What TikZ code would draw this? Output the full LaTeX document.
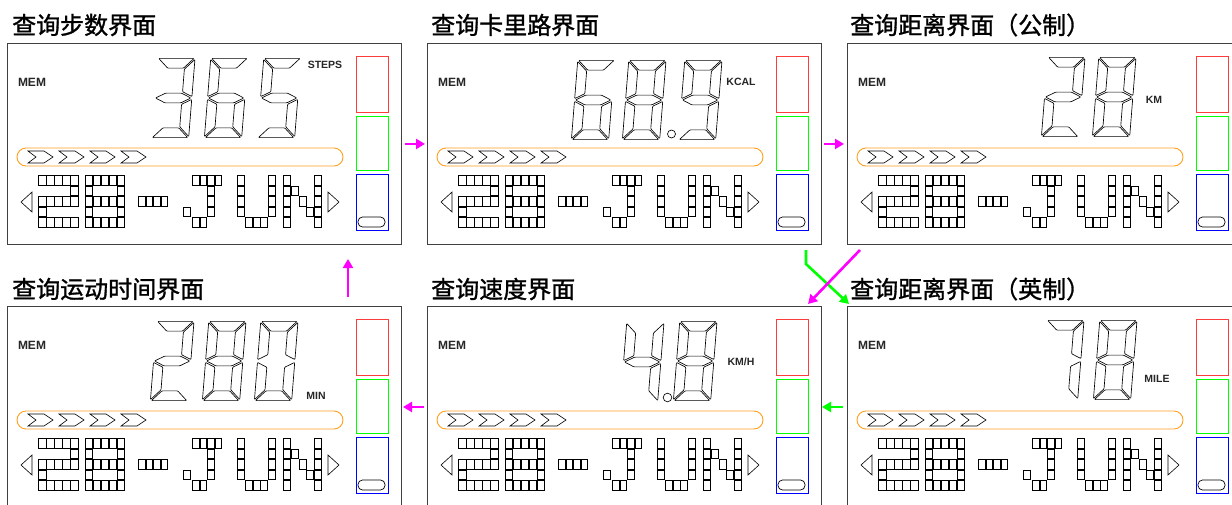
\documentclass[tikz,border=0pt]{standalone}
\usepackage{fontspec}
\setmainfont{Liberation Sans}
\newfontfamily\cjk[FakeBold=1.2]{Noto Sans CJK SC}
\usetikzlibrary{arrows.meta}
\definecolor{mag}{RGB}{255,0,255}
\definecolor{grn}{RGB}{0,255,0}
\definecolor{lcdred}{RGB}{255,60,60}
\definecolor{lcdorange}{RGB}{255,160,30}

\tikzset{
  frame/.style={draw=black!75, line width=0.9pt, minimum width=394pt, minimum height=201pt, inner sep=0pt, anchor=north west},
  seg/.style={draw=black, line width=0.65pt, rounded corners=0.8pt},
  cellbox/.style={draw=black, line width=0.65pt},
  chev/.style={draw=black, line width=0.6pt},
  tri/.style={draw=black, line width=0.6pt},
  lcdbar/.style={draw=lcdorange, line width=0.9pt, rounded corners=9pt},
  boxR/.style={draw=lcdred, line width=0.8pt},
  boxG/.style={draw=grn, line width=0.8pt},
  boxB/.style={draw=blue, line width=0.8pt},
  oval/.style={draw=black, line width=0.7pt, rounded corners=4.5pt},
  title/.style={font=\cjk\fontsize{24}{24}\selectfont, anchor=west, inner sep=0pt},
  memlbl/.style={font=\fontsize{12}{12}\selectfont\bfseries, inner sep=0pt, text=black!85},
  unitlbl/.style={font=\fontsize{10.5}{10.5}\selectfont\bfseries, inner sep=0pt, text=black!85},
  dp/.style={draw=black, line width=0.65pt},
  flowM/.style={draw=mag, line width=2.6pt, -{Triangle[length=9pt,width=10pt]}},
  flowG/.style={draw=grn, line width=2.6pt, -{Triangle[length=9pt,width=10pt]}},
}

% seven segment pieces (upright, w=38, h=80, t=10.5)
\def\segA{\draw[seg, scale around={0.93:(19,5.25)}] (0,0)--(38,0)--(27.5,10.5)--(10.5,10.5)--cycle;}
\def\segB{\draw[seg, scale around={0.93:(32.75,20)}] (38,0)--(38,40)--(27.5,34.75)--(27.5,10.5)--cycle;}
\def\segC{\draw[seg, scale around={0.93:(32.75,60)}] (38,40)--(38,80)--(27.5,69.5)--(27.5,45.25)--cycle;}
\def\segD{\draw[seg, scale around={0.93:(19,74.75)}] (0,80)--(10.5,69.5)--(27.5,69.5)--(38,80)--cycle;}
\def\segE{\draw[seg, scale around={0.93:(5.25,60)}] (0,40)--(10.5,45.25)--(10.5,69.5)--(0,80)--cycle;}
\def\segF{\draw[seg, scale around={0.93:(5.25,20)}] (0,0)--(10.5,10.5)--(10.5,34.75)--(0,40)--cycle;}
\def\segG{\draw[seg, scale around={0.93:(19,40)}] (0,40)--(10.5,34.75)--(27.5,34.75)--(38,40)--(27.5,45.25)--(10.5,45.25)--cycle;}

\newcommand\sevseg[3]{% #1 bottom-left x, #2 top y, #3 segments
  \begin{scope}[shift={(#1+6.4,#2)}, xslant=0.08]
    \foreach \s in {#3} {\csname seg\s\endcsname}
  \end{scope}}

\newcommand\cellat[3]{\draw[cellbox] (#1+0.35,#2+0.35) rectangle ++(#3-0.7,9.8);}

\newcommand\lcdpanel[3]{% #1 name, #2 x, #3 y
  \node[frame] (#1) at (#2,#3) {};
  \begin{scope}[shift={(#2,#3)}]
    \node[memlbl] (#1mem) at (25,39) {MEM};
    \draw[boxR] (349,13) rectangle (381,69);
    \draw[boxG] (349,73) rectangle (381,127);
    \draw[boxB] (349,131) rectangle (381,187);
    \draw[oval] (351,174) rectangle (378,184);
    \draw[lcdbar] (10,105) rectangle (336,123);
    \foreach \i in {0,...,3} {
      \begin{scope}[shift={(21+31*\i,108)}]
        \draw[chev] (0,0)--(16,0)--(25,6)--(16,12)--(0,12)--(8,6)--cycle;
      \end{scope}}
    \draw[tri] (25,149)--(14,159)--(25,169)--cycle;
    \draw[tri] (321,149)--(332,159)--(321,169)--cycle;
    % "2"
    \foreach \c in {0,...,4} {
      \cellat{31.3+8*\c}{132}{8}
      \cellat{31.3+8*\c}{153}{8}
      \cellat{31.3+8*\c}{174}{8}}
    \cellat{63.3}{142.5}{8}
    \cellat{31.3}{163.5}{8}
    % "8"
    \foreach \c in {0,...,4} {
      \cellat{78+8*\c}{132}{8}
      \cellat{78+8*\c}{153}{8}
      \cellat{78+8*\c}{174}{8}}
    \foreach \r in {142.5,163.5} {
      \cellat{78}{\r}{8}
      \cellat{110}{\r}{8}}
    % "-"
    \foreach \c in {0,...,3} {\cellat{131+7.5*\c}{153}{7.5}}
    % "J"
    \foreach \c in {0,...,3} {\cellat{185+7.5*\c}{132}{7.5}}
    \foreach \r in {142.5,153,163.5} {\cellat{200}{\r}{7.5}}
    \cellat{176}{163.5}{7.5}
    \cellat{185}{174}{7.5}
    \cellat{192.5}{174}{7.5}
    % "U"
    \foreach \r in {132,142.5,153,163.5} {
      \cellat{230}{\r}{7.75}
      \cellat{261}{\r}{7.75}}
    \foreach \c in {1,2,3} {\cellat{230+7.75*\c}{174}{7.75}}
    % "N"
    \foreach \r in {132,142.5,153,163.5,174} {
      \cellat{276}{\r}{7.75}
      \cellat{307}{\r}{7.75}}
    \cellat{283.75}{142.5}{7.75}
    \cellat{291.5}{153}{7.75}
    \cellat{299.25}{163.5}{7.75}
  \end{scope}}

\begin{document}
\begin{tikzpicture}[x=1pt,y=-1pt]
\useasboundingbox (0,0) rectangle (1232,504);
\clip (0,0) rectangle (1232,504);

% titles
\node[title] (t1) at (12,25) {查询步数界面};
\node[title] (t2) at (431,25) {查询卡里路界面};
\node[title] (t3) at (850,25) {查询距离界面（公制）};
\node[title] (t4) at (12,289) {查询运动时间界面};
\node[title] (t5) at (431,289) {查询速度界面};
\node[title] (t6) at (850,289) {查询距离界面（英制）};

% panels
\lcdpanel{p1}{7}{43}
\lcdpanel{p2}{427}{43}
\lcdpanel{p3}{847}{43}
\lcdpanel{p4}{7}{306}
\lcdpanel{p5}{427}{306}
\lcdpanel{p6}{847}{306}

% panel 1: 365 STEPS
\sevseg{151}{58}{A,B,C,D,G}
\sevseg{204}{58}{A,C,D,E,F,G}
\sevseg{257}{58}{A,C,D,F,G}
\node[unitlbl] (u1) at (325,65) {STEPS};

% panel 2: 68.9 KCAL
\sevseg{571}{60}{A,C,D,E,F,G}
\sevseg{622}{60}{A,B,C,D,E,F,G}
\sevseg{678}{60}{A,B,C,D,F,G}
\draw[dp] (671.5,134) circle (4);
\node[unitlbl] (u2) at (741,82) {KCAL};

% panel 3: 28 KM
\sevseg{1041}{57}{A,B,D,E,G}
\sevseg{1092}{57}{A,B,C,D,E,F,G}
\node[unitlbl] (u3) at (1154,100) {KM};

% panel 4: 280 MIN
\sevseg{150}{321}{A,B,D,E,G}
\sevseg{202}{321}{A,B,C,D,E,F,G}
\sevseg{254}{321}{A,B,C,D,E,F}
\node[unitlbl] (u4) at (316,396) {MIN};

% panel 5: 4.8 KM/H
\sevseg{620}{322}{B,C,F,G}
\sevseg{673}{321}{A,B,C,D,E,F,G}
\draw[dp] (667.5,397.5) circle (4.3);
\node[unitlbl] (u5) at (741,362) {KM/H};

% panel 6: 78 MILE
\sevseg{1040}{320}{A,B,C}
\sevseg{1093}{320}{A,B,C,D,E,F,G}
\node[unitlbl] (u6) at (1157,379) {MILE};

% flow arrows
\draw[flowM] ([xshift=3pt]p1.east) -- ([xshift=-2pt]p2.west);
\draw[flowM] ([xshift=2pt]p2.east) -- ([xshift=-3pt]p3.west);
\coordinate (g1) at (806,250);
\coordinate (g2) at (806,264);
\coordinate (g3) at (849,304);
\draw[flowG] (g1) -- (g2) -- (g3);
\coordinate (m1) at (860,250);
\coordinate (m2) at (808,304);
\draw[flowM] (m1) -- (m2);
\coordinate (h1) at (843,407);
\coordinate (h2) at (822,407);
\draw[flowG] (h1) -- (h2);
\coordinate (k1) at (424,407);
\coordinate (k2) at (403,407);
\draw[flowM] (k1) -- (k2);
\coordinate (v1) at (348,297);
\coordinate (v2) at (348,259);
\draw[flowM] (v1) -- (v2);
\end{tikzpicture}
\end{document}
